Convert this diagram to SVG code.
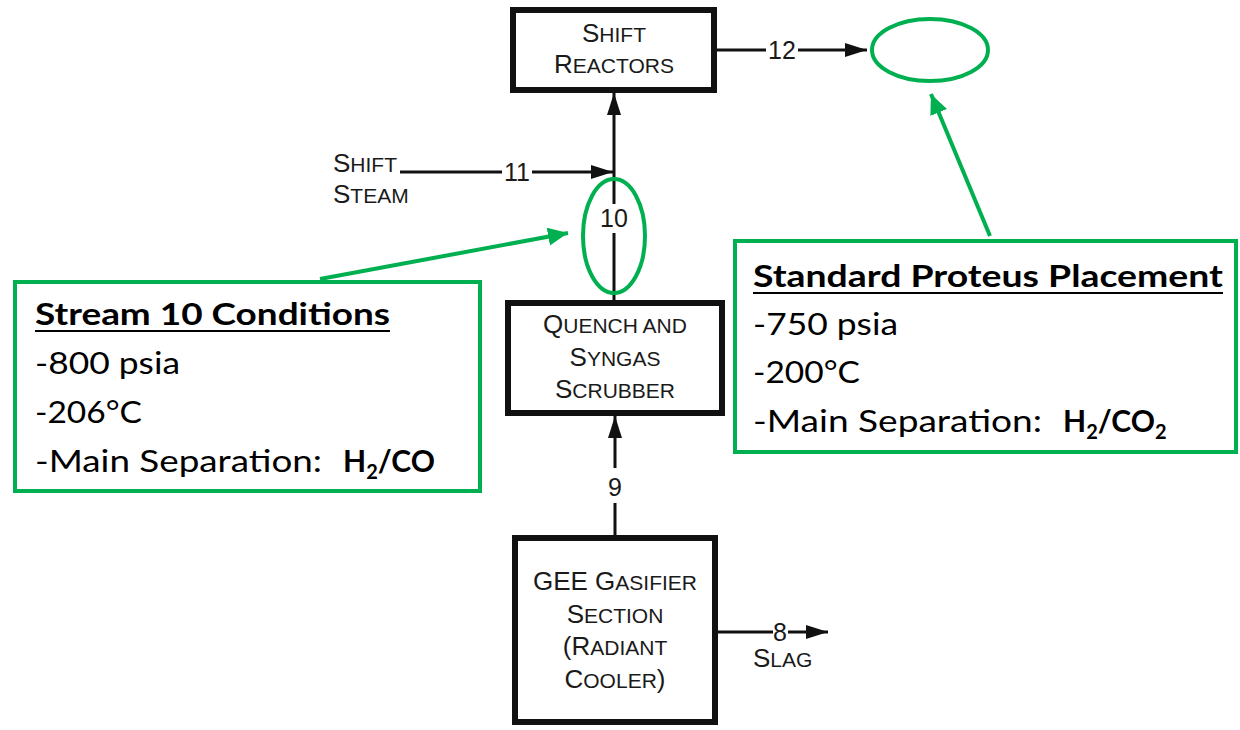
<svg xmlns="http://www.w3.org/2000/svg" width="1240" height="730" viewBox="0 0 1240 730">
<style>
.box{fill:#fff;stroke:#111;stroke-width:6}
.pt{font-family:"Liberation Sans",Arial,sans-serif;fill:#1a1a1a;text-anchor:middle}
.lt{font-family:"Liberation Sans",Arial,sans-serif;fill:#1a1a1a}
.big{font-size:26px}
.sm{font-size:21px}
.num{font-family:"Liberation Sans",Arial,sans-serif;fill:#1a1a1a;font-size:25px;text-anchor:middle}
.ln{stroke:#111;stroke-width:3;fill:none}
.gbox{fill:#fff;stroke:#00B050;stroke-width:4}
.gl{stroke:#00B050;stroke-width:4;fill:none}
.ct{font-family:Lato,"Open Sans",sans-serif;fill:#000;font-size:30px}
.cb{font-family:Lato,"Open Sans",sans-serif;fill:#000;font-size:30px;font-weight:bold}
.ul{stroke:#000;stroke-width:2}
</style>
<defs>
<marker id="ah" markerUnits="userSpaceOnUse" markerWidth="24" markerHeight="16" refX="22" refY="7" orient="auto">
<path d="M0,0 L22,7 L0,14 z" fill="#111"/>
</marker>
<marker id="gh" markerUnits="userSpaceOnUse" markerWidth="22" markerHeight="20" refX="20" refY="9" orient="auto">
<path d="M0,0 L20,9 L0,18 z" fill="#00B050"/>
</marker>
</defs>

<g id="connectors">
<line class="ln" x1="614" y1="300" x2="614" y2="233"/>
<line class="ln" x1="614" y1="204" x2="614" y2="93" marker-end="url(#ah)"/>
<text class="num" x="614" y="227">10</text>
<line class="ln" x1="400" y1="172" x2="502" y2="172"/>
<line class="ln" x1="532" y1="172" x2="613" y2="172" marker-end="url(#ah)"/>
<text class="num" x="517" y="181">11</text>
<line class="ln" x1="717" y1="50" x2="766" y2="50"/>
<line class="ln" x1="798" y1="50" x2="867" y2="50" marker-end="url(#ah)"/>
<text class="num" x="782" y="59">12</text>
<line class="ln" x1="615" y1="535" x2="615" y2="503"/>
<line class="ln" x1="615" y1="468" x2="615" y2="416" marker-end="url(#ah)"/>
<text class="num" x="615" y="496">9</text>
<line class="ln" x1="718" y1="632" x2="773" y2="632"/>
<line class="ln" x1="788" y1="632" x2="828" y2="632" marker-end="url(#ah)"/>
<text class="num" x="780" y="641">8</text>
</g>

<g id="shift-reactors">
<rect class="box" x="513" y="10" width="201" height="80"/>
<text class="pt" x="614" y="42"><tspan class="big">S</tspan><tspan class="sm">HIFT</tspan></text>
<text class="pt" x="614" y="73"><tspan class="big">R</tspan><tspan class="sm">EACTORS</tspan></text>
</g>

<g id="shift-steam">
<text class="lt" x="333" y="172"><tspan class="big">S</tspan><tspan class="sm">HIFT</tspan></text>
<text class="lt" x="333" y="203"><tspan class="big">S</tspan><tspan class="sm">TEAM</tspan></text>
</g>

<g id="quench">
<rect class="box" x="508" y="303" width="214" height="110"/>
<text class="pt" x="615" y="333"><tspan class="big">Q</tspan><tspan class="sm">UENCH AND</tspan></text>
<text class="pt" x="615" y="366"><tspan class="big">S</tspan><tspan class="sm">YNGAS</tspan></text>
<text class="pt" x="615" y="398"><tspan class="big">S</tspan><tspan class="sm">CRUBBER</tspan></text>
</g>

<g id="gasifier">
<rect class="box" x="515" y="538" width="200" height="184"/>
<text class="pt" x="615" y="590"><tspan class="big">GEE G</tspan><tspan class="sm">ASIFIER</tspan></text>
<text class="pt" x="615" y="623"><tspan class="big">S</tspan><tspan class="sm">ECTION</tspan></text>
<text class="pt" x="615" y="655"><tspan class="big">(R</tspan><tspan class="sm">ADIANT</tspan></text>
<text class="pt" x="615" y="688"><tspan class="big">C</tspan><tspan class="sm">OOLER</tspan><tspan class="big">)</tspan></text>
</g>

<g id="slag">
<text class="lt" x="753" y="667"><tspan class="big">S</tspan><tspan class="sm">LAG</tspan></text>
</g>

<g id="callout-stream10">
<ellipse class="gl" cx="614" cy="236" rx="31" ry="57"/>
<line class="gl" x1="320" y1="279" x2="568" y2="233" marker-end="url(#gh)"/>
<rect class="gbox" x="15" y="282" width="465" height="209"/>
<text class="cb" x="35" y="325" textLength="355" lengthAdjust="spacingAndGlyphs">Stream 10 Conditions</text>
<line class="ul" x1="35" y1="331" x2="390" y2="331"/>
<text class="ct" x="35" y="374" textLength="145" lengthAdjust="spacingAndGlyphs">-800 psia</text>
<text class="ct" x="35" y="423" textLength="107" lengthAdjust="spacingAndGlyphs">-206°C</text>
<text class="ct" x="35" y="472" textLength="287" lengthAdjust="spacingAndGlyphs">-Main Separation:</text>
<text class="cb" x="343" y="472">H<tspan font-size="20" dy="7">2</tspan><tspan dy="-7">/CO</tspan></text>
</g>

<g id="callout-proteus">
<ellipse class="gl" cx="930" cy="50" rx="58" ry="31"/>
<line class="gl" x1="990" y1="236" x2="931" y2="94" marker-end="url(#gh)"/>
<rect class="gbox" x="735" y="241" width="501" height="211"/>
<text class="cb" x="753" y="287" textLength="470" lengthAdjust="spacingAndGlyphs">Standard Proteus Placement</text>
<line class="ul" x1="753" y1="293" x2="1223" y2="293"/>
<text class="ct" x="753" y="335" textLength="145" lengthAdjust="spacingAndGlyphs">-750 psia</text>
<text class="ct" x="753" y="383" textLength="107" lengthAdjust="spacingAndGlyphs">-200°C</text>
<text class="ct" x="753" y="432" textLength="289" lengthAdjust="spacingAndGlyphs">-Main Separation:</text>
<text class="cb" x="1063" y="432">H<tspan font-size="20" dy="7">2</tspan><tspan dy="-7">/CO</tspan><tspan font-size="20" dy="7">2</tspan></text>
</g>
</svg>
